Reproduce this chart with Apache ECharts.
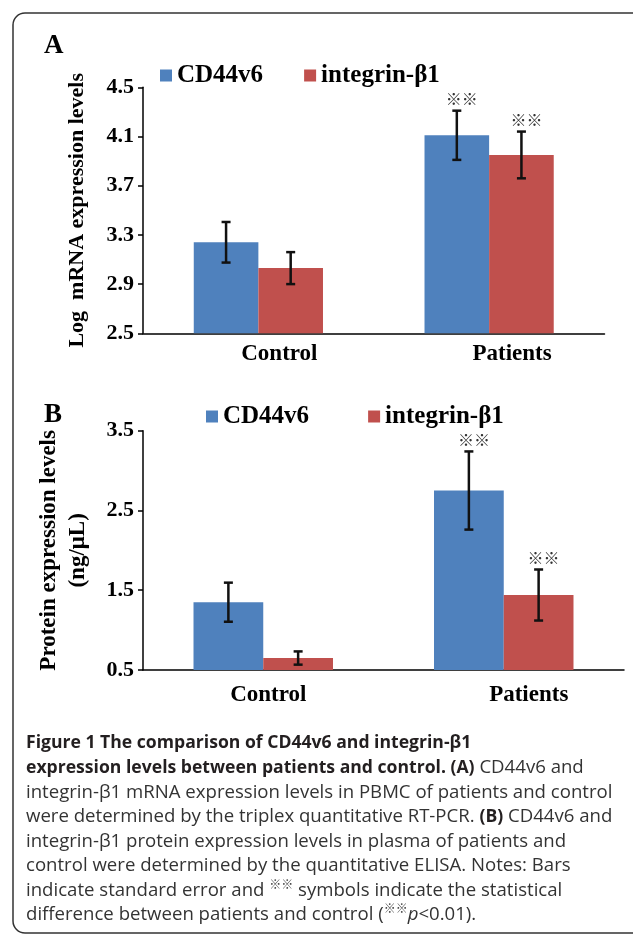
<!DOCTYPE html>
<html>
<head>
<meta charset="utf-8">
<script src="https://cdn.jsdelivr.net/npm/echarts@6/dist/echarts.min.js"></script>
<style>
html,body{margin:0;padding:0;background:#fff;}
#chart{width:633px;height:935px;}
</style>
</head>
<body>
<div id="chart"></div>
<script>
// ---- data ----
const categories = ['Control', 'Patients'];
const seriesNames = ['CD44v6', 'integrin-β1'];
// Panel A: log mRNA expression
const mrnaCD44 = [3.24, 4.11];
const mrnaCD44Err = [0.165, 0.20];
const mrnaITG = [3.03, 3.95];
const mrnaITGErr = [0.13, 0.19];
const mrnaSig = ['', '※※'];
// Panel B: protein expression (ng/μL)
const protCD44 = [1.35, 2.75];
const protCD44Err = [0.245, 0.49];
const protITG = [0.65, 1.44];
const protITGErr = [0.083, 0.32];
const protSig = ['', '※※'];
// axis ticks
const yTicksA = {min: 2.5, max: 4.5, interval: 0.4};
const yTicksB = {min: 0.5, max: 3.5, interval: 1};

const SERIF = '"Liberation Serif", "Times New Roman", serif';
const BLUE = '#4f81bd', RED = '#c0504d';

function errData(vals, errs) {
  return vals.map((v, i) => [i, v - errs[i], v + errs[i]]);
}
function errRenderer(sign, gapFrac, sigs) {
  return function (params, api) {
    const ci = api.value(0), lo = api.value(1), hi = api.value(2);
    const band = api.size([1, 0])[0];
    const barW = band * (1 - gapFrac) / 2;
    const pTop = api.coord([ci, hi]);
    const pBot = api.coord([ci, lo]);
    const x = pTop[0] + sign * barW / 2;
    const cap = 4.5;
    const st = {stroke: '#111', lineWidth: 2.5};
    const children = [
      {type: 'line', shape: {x1: x, y1: pTop[1], x2: x, y2: pBot[1]}, style: st},
      {type: 'line', shape: {x1: x - cap, y1: pTop[1], x2: x + cap, y2: pTop[1]}, style: st},
      {type: 'line', shape: {x1: x - cap, y1: pBot[1], x2: x + cap, y2: pBot[1]}, style: st}
    ];
    const s = sigs[params.dataIndex];
    if (s) {
      children.push({type: 'text', x: x + 5, y: pTop[1] - 12,
        style: {text: s, fontSize: 16, fontFamily: '"Noto Sans CJK SC", sans-serif', fill: '#333',
          align: 'center', verticalAlign: 'middle'}});
    }
    return {type: 'group', children: children};
  };
}

const gapA = 0.44, gapB = 0.42;
const labelOffsetsA = [21, 23];
const labelOffsetsB = [5, 25];
function catLabel(prefix) {
  return function (value, index) { return '{' + prefix + index + '|' + value + '}'; };
}
function catRich(prefix, offsets) {
  const r = {};
  offsets.forEach((o, i) => {
    r[prefix + i] = {fontFamily: SERIF, fontWeight: 'bold', fontSize: 23, color: '#000',
      padding: [0, 0, 0, 2 * o]};
  });
  return r;
}

const chart = echarts.init(document.getElementById('chart'), null, {renderer: 'canvas'});
const tickLabel = {fontFamily: SERIF, fontWeight: 'bold', fontSize: 22, color: '#000', margin: 9};
const axisLineStyle = {show: true, lineStyle: {color: '#000', width: 1.5}};
const CAP_FONT = '"Open Sans", sans-serif';
const CAP_SIZE = 18.6, CAP_BOLD = 17.6, CAP_LH = 24.5;

const option = {
  backgroundColor: '#fff',
  animation: false,
  title: [
    {text: 'A', left: 39, top: 28, textStyle: {fontFamily: SERIF, fontWeight: 'bold', fontSize: 27, color: '#000'}},
    {text: 'B', left: 39, top: 397, textStyle: {fontFamily: SERIF, fontWeight: 'bold', fontSize: 27, color: '#000'}},
    {
      text: [
        '{b|Figure 1 The comparison of CD44v6 and integrin-β1}',
        '{b|expression levels between patients and control. (A)} CD44v6 and',
        'integrin-β1 mRNA expression levels in PBMC of patients and control',
        'were determined by the triplex quantitative RT-PCR. {b|(B)} CD44v6 and',
        'integrin-β1 protein expression levels in plasma of patients and',
        'control were determined by the quantitative ELISA. Notes: Bars',
        'indicate standard error and {s|※※} symbols indicate the statistical',
        'difference between patients and control ({s|※※}{i|p}<0.01).'
      ].join('\n'),
      left: 21, top: 726,
      textStyle: {
        fontFamily: CAP_FONT, fontSize: CAP_SIZE, fontWeight: 'normal', color: '#333', lineHeight: CAP_LH,
        rich: {
          b: {fontFamily: CAP_FONT, fontSize: CAP_BOLD, fontWeight: 'bold', color: '#231f20', lineHeight: CAP_LH},
          s: {fontFamily: '"Noto Sans CJK SC", sans-serif', fontSize: 12, color: '#444', verticalAlign: 'top', lineHeight: 20},
          i: {fontFamily: CAP_FONT, fontSize: CAP_SIZE, fontStyle: 'italic', color: '#333', lineHeight: CAP_LH}
        }
      }
    }
  ],
  graphic: [
    {type: 'rect', shape: {x: 13, y: 13, width: 700, height: 920, r: 12},
      style: {fill: 'none', stroke: '#333', lineWidth: 1.5}, silent: true, z: -1}
  ],
  legend: [
    {data: seriesNames, left: 155, top: 58, itemWidth: 12, itemHeight: 12, itemGap: 41, icon: 'rect',
      textStyle: {fontFamily: SERIF, fontWeight: 'bold', fontSize: 25, color: '#000'}},
    {data: seriesNames, left: 201, top: 399, itemWidth: 12, itemHeight: 12, itemGap: 59, icon: 'rect',
      textStyle: {fontFamily: SERIF, fontWeight: 'bold', fontSize: 25, color: '#000'}}
  ],
  grid: [
    {left: 143, right: 28.5, top: 87.3, height: 246},
    {left: 143, right: 9, top: 430.7, height: 239.3}
  ],
  xAxis: [
    {type: 'category', gridIndex: 0, data: categories, axisLine: axisLineStyle, axisTick: {show: false},
      axisLabel: {margin: 9, formatter: catLabel('a'), rich: catRich('a', labelOffsetsA)}},
    {type: 'category', gridIndex: 1, data: categories, axisLine: axisLineStyle, axisTick: {show: false},
      axisLabel: {margin: 14, formatter: catLabel('b'), rich: catRich('b', labelOffsetsB)}}
  ],
  yAxis: [
    {type: 'value', gridIndex: 0, min: yTicksA.min, max: yTicksA.max, interval: yTicksA.interval,
      axisLine: axisLineStyle, axisTick: {show: true, length: 5, lineStyle: {color: '#000', width: 1.5}},
      splitLine: {show: false},
      axisLabel: Object.assign({}, tickLabel, {formatter: v => v.toFixed(1)}),
      name: 'Log  mRNA expression levels', nameLocation: 'middle', nameGap: 55,
      nameTextStyle: {fontFamily: SERIF, fontWeight: 'bold', fontSize: 22, color: '#000'}},
    {type: 'value', gridIndex: 1, min: yTicksB.min, max: yTicksB.max, interval: yTicksB.interval,
      axisLine: axisLineStyle, axisTick: {show: true, length: 5, lineStyle: {color: '#000', width: 1.5}},
      splitLine: {show: false},
      axisLabel: Object.assign({}, tickLabel, {formatter: v => v.toFixed(1)}),
      name: 'Protein expression levels\n(ng/μL)', nameLocation: 'middle', nameGap: 50,
      nameTextStyle: {fontFamily: SERIF, fontWeight: 'bold', fontSize: 23, color: '#000', lineHeight: 29}}
  ],
  series: [
    {name: seriesNames[0], type: 'bar', xAxisIndex: 0, yAxisIndex: 0, data: mrnaCD44,
      barGap: '0%', barCategoryGap: (gapA * 100) + '%', itemStyle: {color: BLUE}},
    {name: seriesNames[1], type: 'bar', xAxisIndex: 0, yAxisIndex: 0, data: mrnaITG,
      barGap: '0%', barCategoryGap: (gapA * 100) + '%', itemStyle: {color: RED}},
    {name: seriesNames[0], type: 'bar', xAxisIndex: 1, yAxisIndex: 1, data: protCD44,
      barGap: '0%', barCategoryGap: (gapB * 100) + '%', itemStyle: {color: BLUE}},
    {name: seriesNames[1], type: 'bar', xAxisIndex: 1, yAxisIndex: 1, data: protITG,
      barGap: '0%', barCategoryGap: (gapB * 100) + '%', itemStyle: {color: RED}},
    {type: 'custom', xAxisIndex: 0, yAxisIndex: 0, z: 5, encode: {x: 0, y: [1, 2]},
      data: errData(mrnaCD44, mrnaCD44Err), renderItem: errRenderer(-1, gapA, mrnaSig)},
    {type: 'custom', xAxisIndex: 0, yAxisIndex: 0, z: 5, encode: {x: 0, y: [1, 2]},
      data: errData(mrnaITG, mrnaITGErr), renderItem: errRenderer(1, gapA, mrnaSig)},
    {type: 'custom', xAxisIndex: 1, yAxisIndex: 1, z: 5, encode: {x: 0, y: [1, 2]},
      data: errData(protCD44, protCD44Err), renderItem: errRenderer(-1, gapB, protSig)},
    {type: 'custom', xAxisIndex: 1, yAxisIndex: 1, z: 5, encode: {x: 0, y: [1, 2]},
      data: errData(protITG, protITGErr), renderItem: errRenderer(1, gapB, protSig)}
  ]
};
chart.setOption(option);
</script>
</body>
</html>
